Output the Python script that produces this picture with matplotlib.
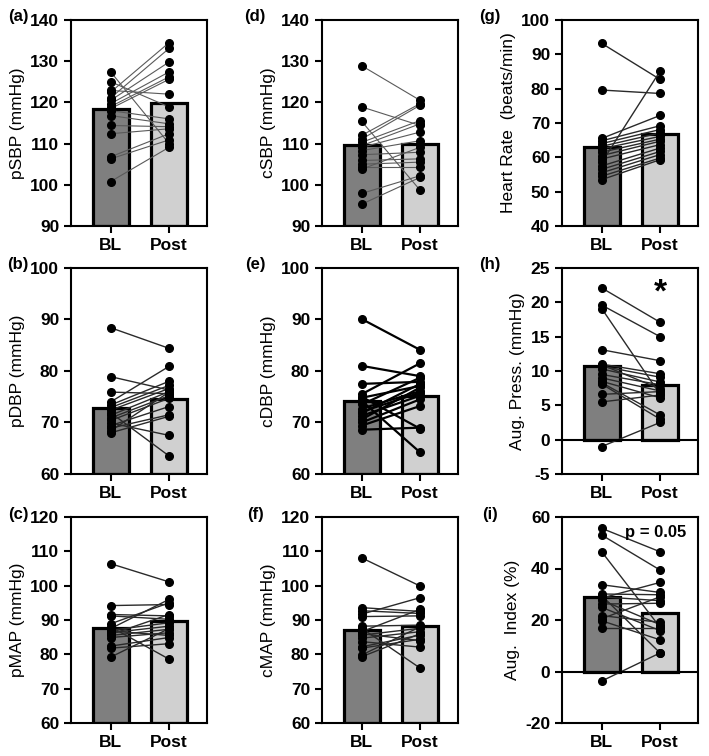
import matplotlib
matplotlib.use("Agg")
import matplotlib.pyplot as plt

plt.rcParams['font.family'] = ['Liberation Sans', 'DejaVu Sans']
plt.rcParams['axes.unicode_minus'] = False

groups = ['BL', 'Post']

# (a) pSBP
bl_a = [127.4, 125.0, 122.9, 122.5, 121.1, 120.5, 119.7, 119.0, 118.5, 118.0, 116.8, 114.4, 112.4, 106.8, 106.3, 100.8]
post_a = [110.0, 118.9, 122.0, 134.5, 133.1, 129.8, 127.4, 126.2, 125.6, 116.0, 114.8, 114.1, 113.6, 112.4, 110.9, 109.1]
mean_a = [118.3, 119.8]

# (d) cSBP
bl_d = [128.9, 118.9, 115.4, 112.0, 111.1, 110.3, 109.5, 109.1, 108.3, 107.3, 105.9, 105.0, 104.2, 103.8, 97.9, 95.3]
post_d = [120.5, 114.4, 98.7, 119.7, 119.3, 115.6, 114.8, 112.8, 110.7, 107.9, 106.3, 105.5, 104.2, 109.1, 102.2, 101.8]
mean_d = [109.7, 109.8]

# (g) heart rate
bl_g = [93.2, 79.6, 65.5, 64.8, 64.0, 63.2, 62.5, 61.5, 60.5, 59.5, 58.5, 57.5, 56.5, 55.5, 54.5, 53.5]
post_g = [82.7, 78.6, 72.2, 69.2, 68.1, 67.1, 66.1, 65.3, 64.7, 63.7, 85.1, 62.7, 61.7, 60.8, 59.8, 59.3]
mean_g = [63.1, 66.9]

# (b) pDBP
bl_b = [88.4, 78.9, 75.9, 74.0, 73.4, 72.9, 72.4, 71.9, 71.4, 70.9, 70.4, 69.9, 69.4, 68.9, 68.4, 68.0]
post_b = [84.4, 76.3, 75.6, 80.9, 78.0, 77.2, 76.6, 63.5, 76.0, 75.2, 74.7, 67.5, 73.1, 71.5, 75.9, 71.2]
mean_b = [72.8, 74.6]

# (e) cDBP
bl_e = [90.1, 81.0, 77.5, 75.5, 75.0, 74.8, 74.2, 73.5, 72.7, 72.1, 71.8, 71.3, 70.6, 70.0, 69.4, 68.6]
post_e = [84.1, 79.0, 77.9, 81.5, 68.8, 77.1, 64.2, 78.7, 76.1, 75.8, 77.5, 75.2, 76.8, 74.5, 73.2, 69.0]
mean_e = [74.2, 75.2]

# (h) augmentation pressure
bl_h = [22.1, 19.6, 19.1, 13.1, 11.0, 10.9, 10.7, 10.3, 9.5, 9.0, 8.5, 8.3, 8.1, 6.6, 5.5, -1.0]
post_h = [17.1, 15.0, 6.6, 11.5, 9.6, 7.4, 9.1, 8.4, 8.0, 7.1, 6.1, 3.6, 3.0, 7.0, 6.5, 2.5]
mean_h = [10.7, 8.0]

# (c) pMAP
bl_c = [106.4, 94.2, 91.6, 91.2, 88.9, 88.0, 87.5, 87.0, 86.3, 85.8, 85.5, 84.9, 82.4, 81.8, 79.2, 86.8]
post_c = [101.1, 94.5, 91.2, 90.2, 95.0, 78.6, 96.0, 89.2, 88.2, 91.6, 87.3, 86.3, 84.9, 83.1, 87.5, 85.5]
mean_c = [87.8, 89.7]

# (f) cMAP
bl_f = [108.1, 93.6, 92.7, 91.7, 91.0, 88.2, 87.6, 86.6, 85.6, 84.7, 83.7, 82.2, 81.8, 79.8, 79.3, 86.0]
post_f = [99.9, 92.5, 91.9, 96.5, 91.2, 88.5, 76.0, 93.1, 87.6, 86.6, 82.1, 85.6, 84.4, 88.0, 86.0, 84.0]
mean_f = [87.1, 88.2]

# (i) augmentation index
bl_i = [55.6, 53.0, 46.5, 33.7, 30.1, 29.0, 28.5, 27.7, 26.2, 24.9, 21.7, 19.7, 16.8, -3.7, 29.5, 20.5]
post_i = [46.5, 39.4, 17.2, 30.7, 29.8, 27.5, 34.6, 18.2, 26.5, 15.9, 19.1, 12.3, 16.8, 7.2, 7.2, 29.0]
mean_i = [28.8, 22.8]

panels = [
    # tag, ylabel, bl, post, mean, ylim, step, line colour, line width, axes corner (px), tag offset
    ('(a)', 'pSBP (mmHg)', bl_a, post_a, mean_a, (90, 140), 10, '#5a5a5a', 0.8, (71, 20), 53),
    ('(d)', 'cSBP (mmHg)', bl_d, post_d, mean_d, (90, 140), 10, '#5a5a5a', 0.8, (322, 20), 67),
    ('(g)', 'Heart Rate  (beats/min)', bl_g, post_g, mean_g, (40, 100), 10, '#2a2a2a', 1.0, (562, 20), 72),
    ('(b)', 'pDBP (mmHg)', bl_b, post_b, mean_b, (60, 100), 10, '#2a2a2a', 1.0, (71, 268), 53),
    ('(e)', 'cDBP (mmHg)', bl_e, post_e, mean_e, (60, 100), 10, 'black', 1.6, (322, 268), 67),
    ('(h)', 'Aug. Press. (mmHg)', bl_h, post_h, mean_h, (-5, 25), 5, '#2a2a2a', 1.0, (562, 268), 72),
    ('(c)', 'pMAP (mmHg)', bl_c, post_c, mean_c, (60, 120), 10, '#2a2a2a', 1.0, (71, 517), 53),
    ('(f)', 'cMAP (mmHg)', bl_f, post_f, mean_f, (60, 120), 10, '#2a2a2a', 1.0, (322, 517), 67),
    ('(i)', 'Aug.  Index (%)', bl_i, post_i, mean_i, (-20, 60), 20, '#2a2a2a', 1.0, (562, 517), 72),
]

W, H = 709, 756
fig = plt.figure(figsize=(W / 100, H / 100), dpi=100)

for tag, ylabel, bl, post, mean, ylim, step, lc, lw, (px, py), off in panels:
    ax = fig.add_axes([px / W, 1 - (py + 206) / H, 136 / W, 206 / H])
    base = 0 if ylim[0] < 0 else ylim[0]
    ax.bar([0, 1], [m - base for m in mean], bottom=base, width=0.62,
           color=['#7f7f7f', '#d0d0d0'], edgecolor='black', linewidth=2.3, zorder=1)
    for b, p in zip(bl, post):
        ax.plot([0, 1], [b, p], color=lc, lw=lw, zorder=2)
    ax.plot([0] * len(bl), bl, 'o', color='black', ms=5.5, zorder=3)
    ax.plot([1] * len(post), post, 'o', color='black', ms=5.5, zorder=3)
    if ylim[0] < 0:
        ax.axhline(0, color='black', lw=1.5, zorder=2)
    ax.set_xlim(-0.68, 1.65)
    ax.set_ylim(*ylim)
    ax.set_yticks(range(ylim[0], ylim[1] + 1, step))
    ax.set_xticks([0, 1])
    ax.set_xticklabels(groups)
    ax.tick_params(width=1.5, length=5, labelsize=12.5)
    for lab in ax.get_xticklabels() + ax.get_yticklabels():
        lab.set_fontweight('bold')
    for s in ax.spines.values():
        s.set_linewidth(1.5)
    ax.set_ylabel(ylabel, fontsize=12.5, labelpad=4)
    fig.text((px - off) / W, 1 - (py - 3) / H, tag, fontsize=12, fontweight='bold',
             ha='center', va='center')
    if tag == '(h)':
        ax.text(1, 21.3, '*', fontsize=24, fontweight='bold', ha='center', va='center')
    if tag == '(i)':
        ax.text(0.93, 54, 'p = 0.05', fontsize=12, fontweight='bold', ha='center', va='center')

fig.savefig('out.png', dpi=100)
